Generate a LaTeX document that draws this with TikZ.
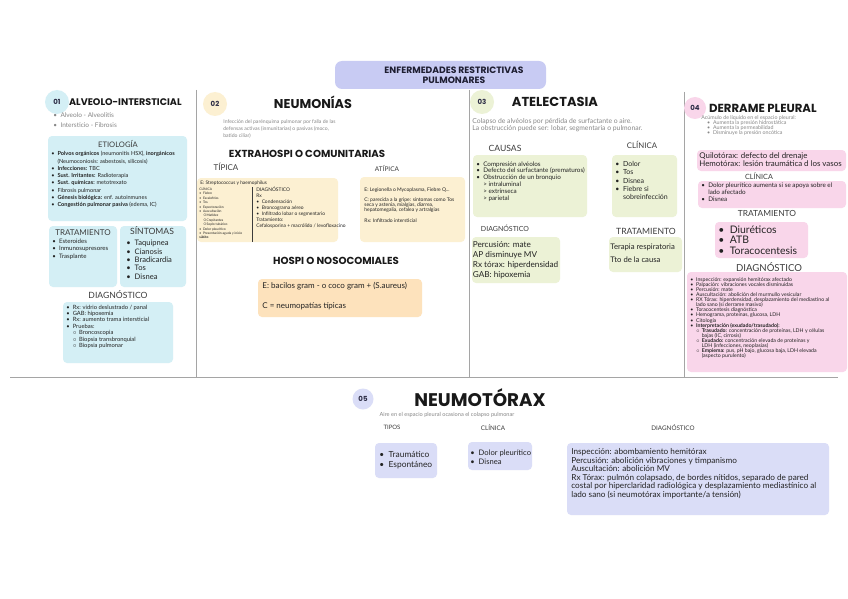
\documentclass[tikz,border=0pt]{standalone}
\usepackage{fontspec}
\setmainfont{Lato}
\newfontfamily\headfont{Poppins}

\newcommand{\itm}[1]{\makebox[1.1em][l]{\textbullet}#1}
\newcommand{\cnt}[1]{\hspace*{1.1em}#1}
\newcommand{\subitm}[1]{\hspace*{1.1em}\makebox[1.1em][l]{$\circ$}#1}
\newcommand{\subcnt}[1]{\hspace*{2.2em}#1}

\tikzset{every picture/.style={line width=0.75pt},
  sepline/.style={draw={rgb, 255:red, 165; green, 165; blue, 165}, line width=0.8pt},
  panel/.style={draw=none, rounded corners=4pt},
  blufill/.style={fill={rgb, 255:red, 212; green, 239; blue, 245}},
  yelfill/.style={fill={rgb, 255:red, 252; green, 240; blue, 210}},
  orafill/.style={fill={rgb, 255:red, 253; green, 226; blue, 188}},
  grnfill/.style={fill={rgb, 255:red, 236; green, 242; blue, 214}},
  pnkfill/.style={fill={rgb, 255:red, 249; green, 214; blue, 234}},
  lavfill/.style={fill={rgb, 255:red, 218; green, 221; blue, 247}},
  badge/.style={circle, draw=none, minimum size=22pt, inner sep=0pt, font=\headfont\bfseries\fontsize{7}{8}\selectfont, text={rgb, 255:red, 45; green, 45; blue, 70}},
  heading/.style={inner sep=0.75pt, font=\headfont\bfseries\fontsize{12.8}{14}\selectfont, text={rgb, 255:red, 25; green, 25; blue, 25}},
  subhead/.style={inner sep=0.75pt, font=\fontsize{8}{9}\selectfont, text={rgb, 255:red, 60; green, 60; blue, 60}},
  note/.style={anchor=north west, inner sep=0pt, align=left, text={rgb, 255:red, 135; green, 135; blue, 135}},
  body/.style={anchor=north west, inner sep=0pt, align=left, text={rgb, 255:red, 35; green, 35; blue, 35}}
}

\begin{document}
\begin{tikzpicture}[x=1pt,y=1pt,yscale=-1]
\useasboundingbox (0,0) rectangle (848,599);
\fill [white] (0,0) rectangle (848,599);

%Banner
\draw [panel, rounded corners=7pt, fill={rgb, 255:red, 200; green, 203; blue, 243}] (335,61) rectangle (546,89);
\node [inner sep=0pt, align=center, font=\headfont\bfseries\fontsize{9.2}{10.5}\selectfont, text={rgb, 255:red, 30; green, 30; blue, 50}] (banner) at (454,75.5) {ENFERMEDADES RESTRICTIVAS\\PULMONARES};

%Separators
\draw [sepline] (196,90) -- (196,377);
\draw [sepline] (469,90) -- (469,377);
\draw [sepline] (684,92) -- (684,377);
\draw [sepline] (10,377) -- (838,377);

% ---------- 01 ALVEOLO-INTERSTICIAL ----------
\node [badge, blufill, minimum size=24pt] (b1) at (57,102) {01};
\node [heading, anchor=west, font=\headfont\bfseries\fontsize{9.6}{11}\selectfont] (h1) at (68,102) {ALVEOLO-INTERSTICIAL};
\node [note, font=\fontsize{6.5}{10}\selectfont] (d1) at (53,112) {\itm{Alveolo - Alveolitis}\\\itm{Intersticio - Fibrosis}};

%Shape: Etiologia
\draw [panel, blufill] (48,136) rectangle (187,221);
\node [subhead, font=\fontsize{7.6}{9}\selectfont] (et1) at (118,144) {ETIOLOGÍA};
\node [body, font=\fontsize{5.6}{7.3}\selectfont] (et1l) at (51,151) {\itm{\textbf{Polvos orgánicos} (neumonitis HSX), \textbf{inorgánicos}}\\
\cnt{(Neumoconiosis: asbestosis, silicosis)}\\
\itm{\textbf{Infecciones:} TBC}\\
\itm{\textbf{Sust. Irritantes:} Radioterapia}\\
\itm{\textbf{Sust. químicas:} metotrexato}\\
\itm{Fibrosis pulmonar}\\
\itm{\textbf{Génesis biológica:} enf. autoinmunes}\\
\itm{\textbf{Congestión pulmonar pasiva} (edema, IC)}};

%Shape: Tratamiento
\draw [panel, blufill] (49,226) rectangle (117,287);
\node [subhead] (tr1) at (83,233) {TRATAMIENTO};
\node [body, font=\fontsize{6.1}{7.5}\selectfont] (tr1l) at (52,238.5) {\itm{Esteroides}\\\itm{Inmunosupresores}\\\itm{Trasplante}};

%Shape: Sintomas
\draw [panel, blufill] (120,226) rectangle (186,287);
\node [subhead, font=\fontsize{8.6}{9}\selectfont] (si1) at (152,231) {SÍNTOMAS};
\node [body, font=\fontsize{7.6}{8.3}\selectfont] (si1l) at (126,240) {\itm{Taquipnea}\\\itm{Cianosis}\\\itm{Bradicardia}\\\itm{Tos}\\\itm{Disnea}};

%Shape: Diagnostico
\node [subhead, font=\fontsize{8.6}{9}\selectfont] (dg1) at (118,295) {DIAGNÓSTICO};
\draw [panel, blufill] (63,302) rectangle (173,363);
\node [body, font=\fontsize{5.8}{6.4}\selectfont] (dg1l) at (66,304.5) {\itm{Rx: vidrio deslustrado / panal}\\
\itm{GAB: hipoxemia}\\
\itm{Rx: aumento trama intersticial}\\
\itm{Pruebas:}\\
\subitm{Broncoscopia}\\
\subitm{Biopsia transbronquial}\\
\subitm{Biopsia pulmonar}};

% ---------- 02 NEUMONIAS ----------
\node [badge, yelfill, minimum size=24pt] (b2) at (215,104) {02};
\node [heading] (h2) at (313,102) {NEUMONÍAS};
\node [note, font=\fontsize{5.1}{7}\selectfont] (d2) at (223,119) {Infección del parénquima pulmonar por falla de las\\defensas activas (inmunitarias) o pasivas (moco,\\batido ciliar)};
\node [heading, font=\headfont\bfseries\fontsize{10.2}{11}\selectfont] (ex2) at (307,154) {EXTRAHOSPI O COMUNITARIAS};
\node [subhead, font=\fontsize{8}{9}\selectfont] (ti2) at (226,167) {TÍPICA};
\node [subhead, font=\fontsize{6.5}{8}\selectfont] (at2) at (387,169) {ATÍPICA};

%Shape: Tipica
\draw [panel, yelfill] (197,178) rectangle (338,242);
\node [body, font=\fontsize{4.8}{5}\selectfont] (ti2e) at (200,180.5) {E: Streptococcus y haemophilus};
\draw [line width=0.4pt, draw={rgb, 255:red, 60; green, 60; blue, 60}] (252,187) -- (252,242);
\node [body, font=\fontsize{3.3}{4.4}\selectfont] (ti2c) at (199,187) {CLÍNICA\\
\itm{Fiebre}\\\itm{Escalofríos}\\\itm{Tos}\\\itm{Expectoración}\\\itm{Auscultación}\\
\subitm{Matidez}\\\subitm{Crepitantes}\\\subitm{Soplo tubárico}\\
\itm{Dolor pleurítico}\\\itm{Presentación aguda y inicio}\\\textbf{súbito}};
\node [body, font=\fontsize{4.9}{6}\selectfont] (ti2d) at (256,187) {DIAGNÓSTICO\\
Rx\\
\itm{Condensación}\\\itm{Broncograma aéreo}\\\itm{Infiltrado lobar o segmentario}\\
Tratamiento:\\
Cefalosporina + macrólido / levofloxacino};

%Shape: Atipica
\draw [panel, yelfill] (360,177) rectangle (465,242);
\node [body, font=\fontsize{5}{5.3}\selectfont] (at2l) at (364,187) {E: Legionella o Mycoplasma, Fiebre Q...\\[5pt]
C: parecida a la gripe: síntomas como Tos\\
seca y astenia, mialgias, diarrea,\\
hepatomegalia, cefalea y artralgias\\[5pt]
Rx: Infiltrado intersticial};

\node [heading, font=\headfont\bfseries\fontsize{10.2}{11}\selectfont] (ho2) at (336,261) {HOSPI O NOSOCOMIALES};
%Shape: Nosocomiales
\draw [panel, orafill] (258,279) rectangle (422,317);
\node [body, font=\fontsize{8}{20}\selectfont] (ho2l) at (262,281.5) {E: bacilos gram - o coco gram + (S.aureus)\\C = neumopatías típicas};

% ---------- 03 ATELECTASIA ----------
\node [badge, grnfill, minimum size=24pt] (b3) at (482,102) {03};
\node [heading, font=\headfont\bfseries\fontsize{13}{14}\selectfont] (h3) at (555,102) {ATELECTASIA};
\node [note, font=\fontsize{6.8}{7}\selectfont] (d3) at (472,118.5) {Colapso de alvéolos por pérdida de surfactante o aire.\\La obstrucción puede ser: lobar, segmentaria o pulmonar.};
\node [subhead, font=\fontsize{8.6}{9}\selectfont] (ca3) at (505,148) {CAUSAS};
\node [subhead, font=\fontsize{7.8}{9}\selectfont] (cl3) at (642,145) {CLÍNICA};

%Shape: Causas
\draw [panel, grnfill] (473,155) rectangle (587,217);
\node [body, font=\fontsize{6.3}{6.9}\selectfont] (ca3l) at (476,161) {\itm{Compresión alvéolos}\\\itm{Defecto del surfactante (prematuros)}\\\itm{Obstrucción de un bronquio}\\
\cnt{> intraluminal}\\\cnt{> extrínseca}\\\cnt{> parietal}};
%Shape: Clinica
\draw [panel, grnfill] (612,155) rectangle (677,217);
\node [body, font=\fontsize{7}{8.3}\selectfont] (cl3l) at (615,161) {\itm{Dolor}\\\itm{Tos}\\\itm{Disnea}\\\itm{Fiebre si}\\\cnt{sobreinfección}};

\node [subhead, font=\fontsize{7}{8}\selectfont] (dg3) at (505,228) {DIAGNÓSTICO};
\node [subhead, font=\fontsize{8.6}{9}\selectfont] (tr3) at (646,231) {TRATAMIENTO};
%Shape: Diagnostico
\draw [panel, grnfill] (472,237) rectangle (560,283);
\node [body, font=\fontsize{8.2}{10}\selectfont] (dg3l) at (472.5,241) {Percusión: mate\\AP disminuye MV\\Rx tórax: hiperdensidad\\GAB: hipoxemia};
%Shape: Tratamiento
\draw [panel, grnfill] (609,237) rectangle (682,272);
\node [body, font=\fontsize{7.7}{13.5}\selectfont] (tr3l) at (610,243.5) {Terapia respiratoria\\Tto de la causa};

% ---------- 04 DERRAME PLEURAL ----------
\node [badge, pnkfill] (b4) at (695,108) {04};
\node [heading, anchor=west, font=\headfont\bfseries\fontsize{11.7}{13}\selectfont] (h4) at (708,108) {DERRAME PLEURAL};
\node [note, font=\fontsize{5.3}{5}\selectfont] (d4) at (701,115.5) {Acúmulo de líquido en el espacio pleural:\\
\cnt{\itm{Aumenta la presión hidrostática}}\\\cnt{\itm{Aumenta la permeabilidad}}\\\cnt{\itm{Disminuye la presión oncótica}}};

%Shape: Quilotorax
\draw [panel, pnkfill] (697,150) rectangle (846,171);
\node [body, font=\fontsize{7.9}{8.3}\selectfont] (qu4) at (699,152) {Quilotórax: defecto del drenaje\\Hemotórax: lesión traumática d los vasos};
\node [subhead, font=\fontsize{7.2}{8}\selectfont] (cl4) at (759,176) {CLÍNICA};
%Shape: Clinica
\draw [panel, pnkfill] (698,181) rectangle (846,208);
\node [body, font=\fontsize{6.3}{7.2}\selectfont] (cl4l) at (701,182.5) {\itm{Dolor pleurítico aumenta si se apoya sobre el}\\\cnt{lado afectado}\\\itm{Disnea}};
\node [subhead, font=\fontsize{8.4}{9}\selectfont] (tr4) at (767,213) {TRATAMIENTO};
%Shape: Tratamiento
\draw [panel, pnkfill] (715,222) rectangle (808,258);
\node [body, font=\fontsize{10.4}{10.6}\selectfont] (tr4l) at (718,225) {\itm{Diuréticos}\\\itm{ATB}\\\itm{Toracocentesis}};
\node [subhead, font=\fontsize{9.6}{10}\selectfont] (dg4) at (769,267) {DIAGNÓSTICO};
%Shape: Diagnostico
\draw [panel, pnkfill] (687,272) rectangle (847,372);
\node [body, font=\fontsize{5.2}{5.1}\selectfont] (dg4l) at (690,277) {\itm{Inspección: expansión hemitórax afectado}\\
\itm{Palpación: vibraciones vocales disminuidas}\\
\itm{Percusión: mate}\\
\itm{Auscultación: abolición del murmullo vesicular}\\
\itm{RX Tórax: hiperdensidad, desplazamiento del mediastino al}\\
\cnt{lado sano (si derrame masivo)}\\
\itm{Toracocentesis diagnóstica}\\
\itm{Hemograma, proteínas, glucosa, LDH}\\
\itm{Citología}\\
\itm{\textbf{Interpretación (exudado/trasudado):}}\\
\subitm{\textbf{Trasudado:} concentración de proteínas, LDH y células}\\
\subcnt{bajas (IC, cirrosis)}\\
\subitm{\textbf{Exudado:} concentración elevada de proteínas y}\\
\subcnt{LDH (infecciones, neoplasias)}\\
\subitm{\textbf{Empiema:} pus, pH bajo, glucosa baja, LDH elevada}\\
\subcnt{(aspecto purulento)}};

% ---------- 05 NEUMOTORAX ----------
\node [badge, lavfill, minimum size=21pt] (b5) at (363,399) {05};
\node [heading, font=\headfont\bfseries\fontsize{18.3}{20}\selectfont] (h5) at (480,398) {NEUMOTÓRAX};
\node [note, anchor=center, font=\fontsize{5.6}{7}\selectfont] (d5) at (447,415) {Aire en el espacio pleural ocasiona el colapso pulmonar};
\node [subhead, font=\fontsize{6}{8}\selectfont] (ti5) at (392,427) {TIPOS};
\node [subhead, font=\fontsize{6.3}{8}\selectfont] (cl5) at (493,428) {CLÍNICA};
\node [subhead, font=\fontsize{6.3}{8}\selectfont] (dg5) at (673,428) {DIAGNÓSTICO};

%Shape: Tipos
\draw [panel, lavfill] (375,443) rectangle (437,478);
\node [body, font=\fontsize{8.4}{10}\selectfont] (ti5l) at (379,451) {\itm{Traumático}\\\itm{Espontáneo}};
%Shape: Clinica
\draw [panel, lavfill] (468,442) rectangle (532,470);
\node [body, font=\fontsize{7.6}{9}\selectfont] (cl5l) at (470,449.5) {\itm{Dolor pleurítico}\\\itm{Disnea}};
%Shape: Diagnostico
\draw [panel, lavfill] (567,443) rectangle (829,515);
\node [body, font=\fontsize{8.2}{8.5}\selectfont] (dg5l) at (571,448.5) {Inspección: abombamiento hemitórax\\
Percusión: abolición vibraciones y timpanismo\\
Auscultación: abolición MV\\
Rx Tórax: pulmón colapsado, de bordes nítidos, separado de pared\\
costal por hiperclaridad radiológica y desplazamiento mediastínico al\\
lado sano (si neumotórax importante/a tensión)};

\end{tikzpicture}
\end{document}
